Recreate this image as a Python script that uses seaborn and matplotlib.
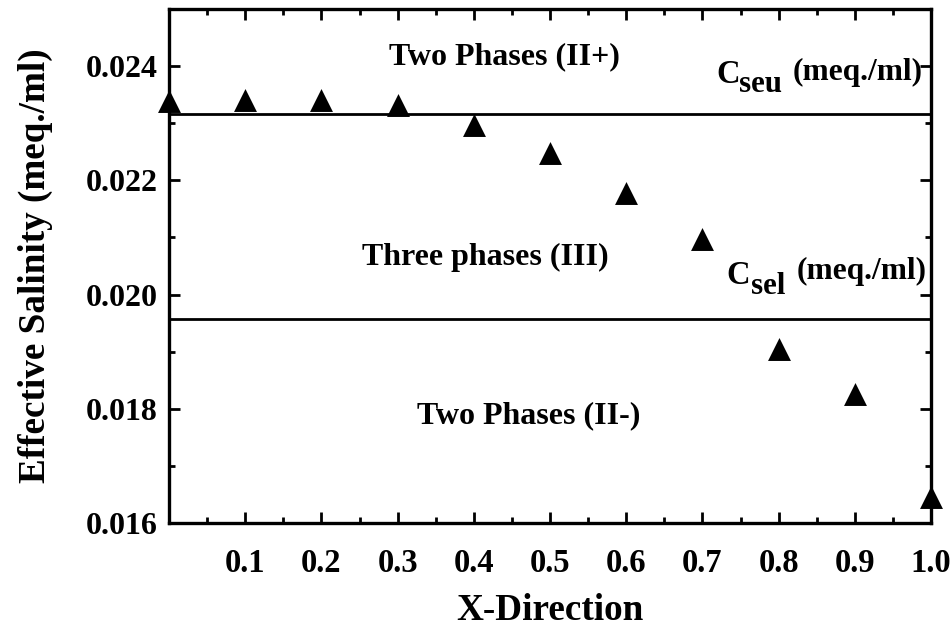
import matplotlib
matplotlib.use("Agg")
import matplotlib.pyplot as plt
import seaborn as sns
import pandas as pd
import numpy as np

# Effective salinity along the X direction
x_pos = [0.0, 0.1, 0.2, 0.3, 0.4, 0.5, 0.6, 0.7, 0.8, 0.9, 1.0]
salinity = [0.02339, 0.02341, 0.02341, 0.02332, 0.02297, 0.02247,
            0.02177, 0.02097, 0.01905, 0.01826, 0.01646]

# Phase boundaries (meq./ml)
c_seu = 0.02316
c_sel = 0.01958

x_ticks = [0.1, 0.2, 0.3, 0.4, 0.5, 0.6, 0.7, 0.8, 0.9, 1.0]
x_tick_labels = ["0.1", "0.2", "0.3", "0.4", "0.5", "0.6", "0.7", "0.8", "0.9", "1.0"]
y_ticks = [0.016, 0.018, 0.020, 0.022, 0.024]
y_tick_labels = ["0.016", "0.018", "0.020", "0.022", "0.024"]

sns.set_style("ticks")
plt.rcParams["font.family"] = ["Liberation Serif", "DejaVu Serif"]
plt.rcParams["font.weight"] = "bold"
plt.rcParams["axes.labelweight"] = "bold"
plt.rcParams["text.color"] = "black"
plt.rcParams["axes.labelcolor"] = "black"
plt.rcParams["xtick.color"] = "black"
plt.rcParams["ytick.color"] = "black"
plt.rcParams["axes.edgecolor"] = "black"

df = pd.DataFrame({"x": x_pos, "salinity": salinity})

fig = plt.figure(figsize=(9.52, 6.29), dpi=100)
fig.subplots_adjust(left=169 / 952, right=931 / 952, top=1 - 9 / 629, bottom=1 - 523 / 629)
ax = fig.add_subplot(111)

ax.axhline(c_seu, color="black", lw=2.0, zorder=2)
ax.axhline(c_sel, color="black", lw=2.0, zorder=2)

sns.scatterplot(data=df, x="x", y="salinity", marker="^", s=16.5 ** 2,
                color="black", linewidth=0, ax=ax, zorder=5, clip_on=False)

ax.set_xlim(0.0, 1.0)
ax.set_ylim(0.016, 0.025)

ax.set_xticks(x_ticks)
ax.set_xticklabels(x_tick_labels)
ax.set_xticks(np.arange(0.05, 1.0, 0.1), minor=True)
ax.set_yticks(y_ticks)
ax.set_yticklabels(y_tick_labels)
ax.set_yticks(np.arange(0.017, 0.0251, 0.002), minor=True)

ax.tick_params(which="both", direction="in", top=True, right=True, width=2.0, color="black")
ax.tick_params(which="major", length=8)
ax.tick_params(which="minor", length=4)
ax.tick_params(axis="x", which="major", labelsize=23.5, pad=18)
ax.tick_params(axis="y", which="major", labelsize=23, pad=8)

for side in ["left", "right", "top", "bottom"]:
    ax.spines[side].set_visible(True)
    ax.spines[side].set_linewidth(2.4)
    ax.spines[side].set_color("black")

ax.set_xlabel("X-Direction", fontsize=26.7, fontweight="bold", labelpad=10)
ax.set_ylabel("Effective Salinity (meq./ml)", fontsize=26.7, fontweight="bold", labelpad=24)

# Region labels
ax.text(0.44, 0.02416, "Two Phases (II+)", fontsize=23, fontweight="bold",
        ha="center", va="center")
ax.text(0.415, 0.02065, "Three phases (III)", fontsize=23, fontweight="bold",
        ha="center", va="center")
ax.text(0.472, 0.01788, "Two Phases (II-)", fontsize=23, fontweight="bold",
        ha="center", va="center")

# Boundary labels: C, subscript, unit
ax.text(0.718, 0.023702, "C", fontsize=23.5, fontweight="bold", ha="left", va="baseline")
ax.text(0.748, 0.023544, "seu", fontsize=22.3, fontweight="bold", ha="left", va="baseline")
ax.text(0.819, 0.023895, "(meq./ml)", fontsize=22.6, fontweight="bold", ha="left", va="center")

ax.text(0.732, 0.020193, "C", fontsize=23.5, fontweight="bold", ha="left", va="baseline")
ax.text(0.764, 0.020018, "sel", fontsize=22.3, fontweight="bold", ha="left", va="baseline")
ax.text(0.824, 0.020404, "(meq./ml)", fontsize=22.6, fontweight="bold", ha="left", va="center")

fig.savefig("out.png", dpi=100, facecolor="white")
